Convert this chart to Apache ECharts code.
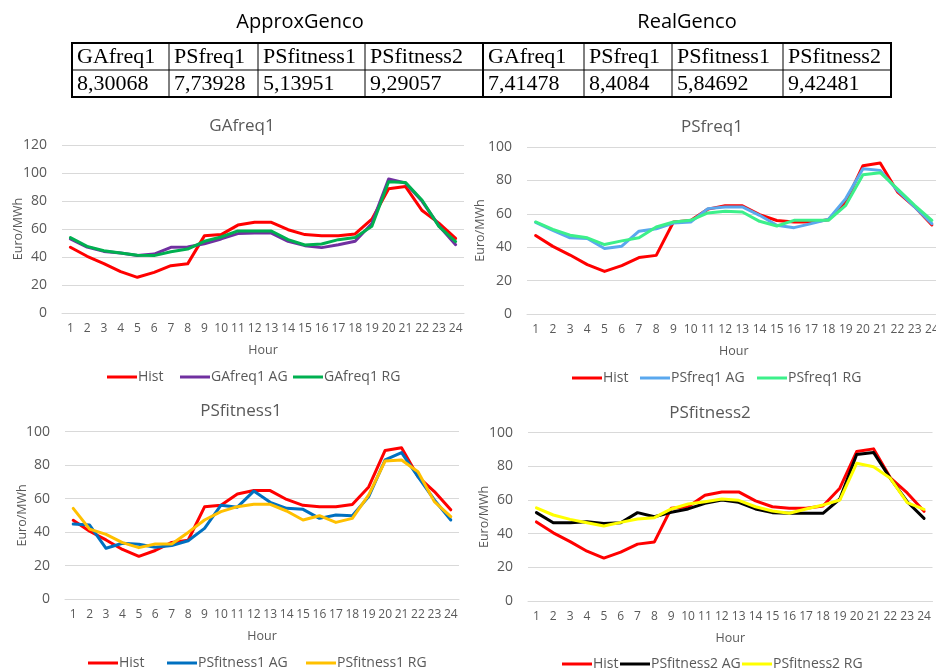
<!DOCTYPE html>
<html>
<head>
<meta charset="utf-8">
<script src="https://cdn.jsdelivr.net/npm/echarts@6/dist/echarts.min.js"></script>
<style>
  html, body { margin: 0; padding: 0; background: #ffffff; overflow: hidden; }
  #chart { width: 944px; height: 670px; }
</style>
</head>
<body>
<div id="chart"></div>
<script>
// Hours of the day (category axis)
const hours = ['1','2','3','4','5','6','7','8','9','10','11','12','13','14','15','16','17','18','19','20','21','22','23','24'];

// Historical price, Euro/MWh
const hist = [47, 40.5, 35.3, 29.6, 25.5, 29, 33.8, 35.1, 55.1, 56, 62.8, 64.8, 64.8, 59.5, 56, 55.1, 55.1, 56.5, 67, 88.8, 90.4, 73.2, 64.2, 53.3];

// GAfreq1 strategy
const gaFreqAG = [52.9, 47.1, 44, 42.9, 41, 42.1, 46.9, 47.1, 49.5, 52.9, 56.7, 57.1, 57.1, 51.2, 48.1, 46.7, 48.8, 51.2, 64, 95.7, 92.9, 79.8, 62.4, 48.8];
const gaFreqRG = [53.8, 47.6, 44.5, 42.9, 41.2, 41, 43.8, 45.7, 51.2, 54.3, 58.6, 58.6, 58.6, 52.4, 48.6, 49.3, 52.4, 54, 62, 93.8, 93.3, 80.5, 61.9, 51];

// PSfreq1 strategy
const psFreqAG = [54.9, 50.1, 45.6, 45.2, 39.2, 40.6, 49.6, 51, 54.5, 55.1, 63.1, 64.1, 64.1, 59.1, 53.1, 51.7, 54.1, 56.7, 69.1, 87, 86, 74, 64.1, 54.1];
const psFreqRG = [55.1, 50.7, 47.2, 45.6, 41.6, 43.8, 45.6, 52.1, 55.1, 56.1, 60.5, 61.5, 61.1, 55.5, 52.7, 56.1, 56.1, 56.1, 65.1, 83.4, 84.6, 75, 65.1, 56.1];

// PSfitness1 strategy
const psFit1AG = [44.8, 44.2, 30.3, 33.3, 32.7, 30.9, 31.9, 34.8, 42.2, 56.1, 54.9, 64.5, 57.8, 54.2, 53.6, 48.2, 50.2, 49.8, 61.2, 83.1, 87.5, 73.1, 59.2, 47.2];
const psFit1RG = [54.2, 41.8, 38.6, 33.7, 30.7, 32.9, 32.9, 39.8, 47.2, 52.2, 55.2, 56.6, 56.6, 52.6, 47.2, 49.8, 45.8, 48.2, 62.2, 82.5, 83.1, 76.1, 58.2, 49.2];

// PSfitness2 strategy
const psFit2AG = [52.5, 46.5, 46.5, 47.1, 46.1, 46.5, 52.5, 50.1, 52.7, 54.7, 58, 60, 58.6, 54.7, 52.5, 52.1, 52.1, 52.1, 60.6, 87.1, 88.3, 72.9, 59, 49.1];
const psFit2RG = [55.4, 51.1, 48.5, 46.5, 44.6, 46.7, 48.7, 49.5, 54.7, 57.6, 59, 60.6, 59.8, 56, 53.5, 52.1, 54.7, 57, 60, 81.8, 79.8, 72.9, 58.4, 54.5];

// Summary table
const tableGroups = ['ApproxGenco', 'RealGenco'];
const tableHeaders = ['GAfreq1', 'PSfreq1', 'PSfitness1', 'PSfitness2', 'GAfreq1', 'PSfreq1', 'PSfitness1', 'PSfitness2'];
const tableValues = ['8,30068', '7,73928', '5,13951', '9,29057', '7,41478', '8,4084', '5,84692', '9,42481'];

const yAxisMax = [120, 100, 100, 100];
const panelTitles = ['GAfreq1', 'PSfreq1', 'PSfitness1', 'PSfitness2'];
const panelSeries = [
  [['Hist', hist], ['GAfreq1 AG', gaFreqAG], ['GAfreq1 RG', gaFreqRG]],
  [['Hist', hist], ['PSfreq1 AG', psFreqAG], ['PSfreq1 RG', psFreqRG]],
  [['Hist', hist], ['PSfitness1 AG', psFit1AG], ['PSfitness1 RG', psFit1RG]],
  [['Hist', hist], ['PSfitness2 AG', psFit2AG], ['PSfitness2 RG', psFit2RG]]
];

// ---- styling / layout ----
const colors = {
  'Hist': '#FF0000',
  'GAfreq1 AG': '#7030A0', 'GAfreq1 RG': '#00B050',
  'PSfreq1 AG': '#5AA8EE', 'PSfreq1 RG': '#3CF08A',
  'PSfitness1 AG': '#0070C0', 'PSfitness1 RG': '#FFC000',
  'PSfitness2 AG': '#000000', 'PSfitness2 RG': '#FFFF00'
};
const SANS = '"Open Sans", "Noto Sans", sans-serif';
const SERIF = '"Liberation Serif", "DejaVu Serif", serif';
const GREY = '#595959';

// plot rectangles: left/right edge x, top/bottom y (pixels); the canvas is a bit
// wider than the window so the right-hand panels can run off the edge
const layout = [
  { x0: 62,  x1: 464,   y0: 145,   y1: 313, titleX: 242, titleY: 126, nameGap: 37, legendXs: [107, 180, 293], legendY: 370 },
  { x0: 527, x1: 940.5, y0: 147,   y1: 314, titleX: 712, titleY: 127, nameGap: 40, legendXs: [572, 640, 757], legendY: 371 },
  { x0: 65,  x1: 459,   y0: 431.7, y1: 599, titleX: 241, titleY: 411, nameGap: 36, legendXs: [88, 167, 306],  legendY: 656 },
  { x0: 528, x1: 932.5, y0: 432.7, y1: 601, titleX: 710, titleY: 413, nameGap: 37, legendXs: [562, 620, 742], legendY: 657 }
];
const W = 944, H = 670;

const grids = [], xAxes = [], yAxes = [], series = [], legends = [], graphics = [];

layout.forEach((L, i) => {
  grids.push({ left: L.x0, right: W - L.x1, top: L.y0, bottom: H - L.y1, containLabel: false });
  xAxes.push({
    type: 'category', gridIndex: i, data: hours, boundaryGap: true,
    name: 'Hour', nameLocation: 'middle', nameGap: 31, nameMoveOverlap: false,
    nameTextStyle: { color: GREY, fontSize: 12.5, fontFamily: SANS },
    axisLine: { lineStyle: { color: '#D9D9D9', width: 1 } },
    axisTick: { show: false },
    axisLabel: { interval: 0, color: GREY, fontSize: 12, fontFamily: SANS, margin: 10 },
    splitLine: { show: false }
  });
  yAxes.push({
    type: 'value', gridIndex: i, min: 0, max: yAxisMax[i], interval: 20,
    name: 'Euro/MWh', nameLocation: 'middle', nameGap: L.nameGap, nameRotate: 90, nameMoveOverlap: false,
    nameTextStyle: { color: GREY, fontSize: 12.5, fontFamily: SANS },
    axisLine: { show: false }, axisTick: { show: false },
    axisLabel: { color: GREY, fontSize: 14, fontFamily: SANS, margin: 15 },
    splitLine: { lineStyle: { color: '#D9D9D9', width: 1 } }
  });
  panelSeries[i].forEach(([name, values], j) => {
    series.push({
      type: 'line', name, data: values, xAxisIndex: i, yAxisIndex: i,
      showSymbol: false, symbol: 'none', smooth: false,
      color: colors[name],
      lineStyle: { width: 3, color: colors[name], cap: 'round', join: 'round' },
      emphasis: { disabled: true }, silent: true
    });
    // one legend entry per slot, so each sits in its own place under the plot
    legends.push({
      left: L.legendXs[j], top: L.legendY, orient: 'horizontal', padding: 0,
      data: [name],
      icon: 'rect', itemWidth: 30, itemHeight: 3,
      textStyle: { color: GREY, fontSize: 14, fontFamily: SANS, padding: [0, 0, 0, -4] },
      selectedMode: false
    });
  });
  graphics.push({
    type: 'text', x: L.titleX, y: L.titleY,
    style: { text: panelTitles[i], fill: GREY, font: '17px ' + SANS, align: 'center', verticalAlign: 'middle' }
  });
});

// ---- table above the charts ----
const colEdges = [72, 169, 258, 365, 483, 584, 672, 783, 891];
const rowEdges = [43, 70, 97];
const groupCentres = [300, 687];
tableGroups.forEach((g, k) => {
  graphics.push({ type: 'text', x: groupCentres[k], y: 22,
    style: { text: g, fill: '#000', font: '20px ' + SANS, align: 'center', verticalAlign: 'middle' } });
});
// inner vertical rules (the one between the two groups is heavier)
colEdges.slice(1, -1).forEach((x, k) => {
  graphics.push({ type: 'line', shape: { x1: x, y1: rowEdges[0], x2: x, y2: rowEdges[2] },
    style: { stroke: '#000', lineWidth: k === 3 ? 2 : 1 } });
});
// row separator and outer frame
graphics.push({ type: 'line', shape: { x1: colEdges[0], y1: rowEdges[1], x2: colEdges[8], y2: rowEdges[1] },
  style: { stroke: '#000', lineWidth: 1 } });
graphics.push({ type: 'rect', shape: { x: colEdges[0], y: rowEdges[0], width: colEdges[8] - colEdges[0], height: rowEdges[2] - rowEdges[0] },
  style: { fill: null, stroke: '#000', lineWidth: 2 } });
tableHeaders.forEach((t, k) => {
  graphics.push({ type: 'text', x: colEdges[k] + 5, y: (rowEdges[0] + rowEdges[1]) / 2 + 1,
    style: { text: t, fill: '#000', font: '22px ' + SERIF, align: 'left', verticalAlign: 'middle' } });
});
tableValues.forEach((t, k) => {
  graphics.push({ type: 'text', x: colEdges[k] + 5, y: (rowEdges[1] + rowEdges[2]) / 2 + 1,
    style: { text: t, fill: '#000', font: '22px ' + SERIF, align: 'left', verticalAlign: 'middle' } });
});

const chart = echarts.init(document.getElementById('chart'), null, { renderer: 'canvas' });
chart.setOption({
  animation: false,
  backgroundColor: '#ffffff',
  grid: grids, xAxis: xAxes, yAxis: yAxes, series, legend: legends,
  graphic: graphics
});
</script>
</body>
</html>
